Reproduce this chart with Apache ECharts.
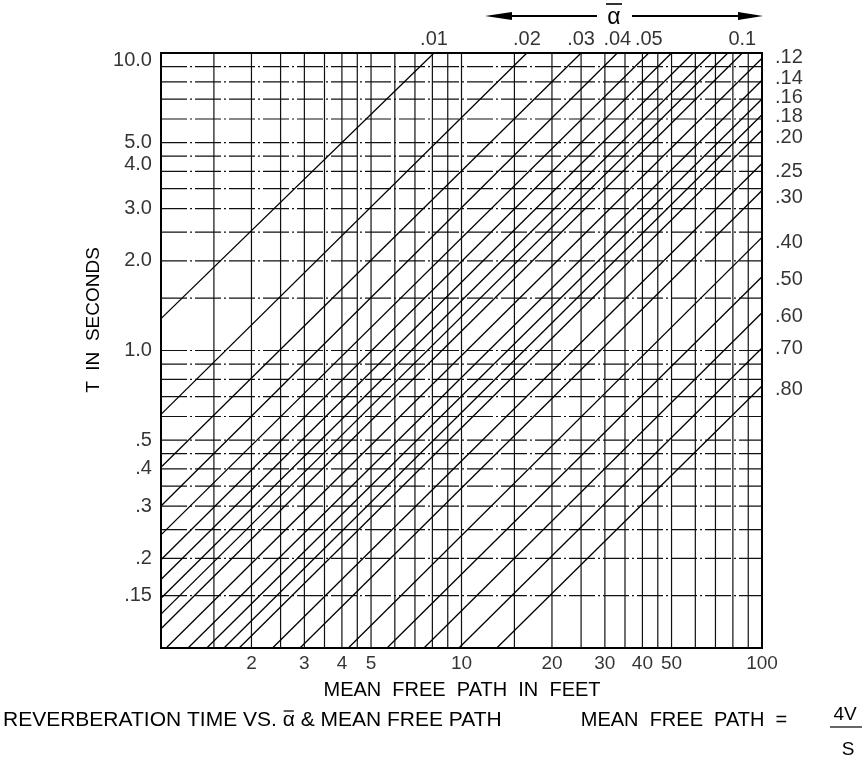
<!DOCTYPE html>
<html>
<head>
<meta charset="utf-8">
<script src="https://cdn.jsdelivr.net/npm/echarts@6/dist/echarts.min.js"></script>
<style>
  html, body { margin: 0; padding: 0; background: #fff; }
  #chart { width: 863px; height: 765px; }
</style>
</head>
<body>
<div id="chart"></div>
<script>
// Average absorption coefficient of each reverberation line
const alphaLabels = ['.01', '.02', '.03', '.04', '.05', '.06', '.07', '.08', '.09', '0.1',
  '.12', '.14', '.16', '.18', '.20', '.25', '.30', '.40', '.50', '.60', '.70', '.80'];
// Whether the coefficient is lettered beside its line
const alphaShown = [true, true, true, true, true, false, false, false, false, true,
  true, true, true, true, true, true, true, true, true, true, true, true];
// Where each line enters the chart: mean free path (ft) and T (s)
const startMfp = [1, 1, 1, 1, 1, 1, 1, 1, 1, 1,
  1.04, 1.23, 1.42, 1.62, 1.82, 2.35, 2.9, 4.2, 5.65, 7.5, 9.8, 13.1];
const startT = [1.28, 0.61, 0.405, 0.30, 0.24, 0.198, 0.17, 0.147, 0.13, 0.116,
  0.1, 0.1, 0.1, 0.1, 0.1, 0.1, 0.1, 0.1, 0.1, 0.1, 0.1, 0.1];
// Where each line leaves the chart
const endMfp = [8.1, 16.5, 25, 33, 42, 50, 59, 68, 77, 86,
  100, 100, 100, 100, 100, 100, 100, 100, 100, 100, 100, 100];
const endT = [10, 10, 10, 10, 10, 10, 10, 10, 10, 10,
  9.6, 8.1, 7.0, 6.2, 5.5, 4.25, 3.45, 2.4, 1.77, 1.34, 1.02, 0.76];

// Axis lettering
const xTicks = [2, 3, 4, 5, 10, 20, 30, 40, 50, 100];
const yTicks = [10, 5, 4, 3, 2, 1, 0.5, 0.4, 0.3, 0.2, 0.15];
const yTickText = ['10.0', '5.0', '4.0', '3.0', '2.0', '1.0', '.5', '.4', '.3', '.2', '.15'];

// Ruling of the log-log paper
const xRules = [1.5, 2, 2.5, 3, 3.5, 4, 4.5, 5, 6, 7, 8, 9,
  10, 15, 20, 25, 30, 35, 40, 45, 50, 60, 70, 80, 90];
const yRules = [0.15, 0.2, 0.25, 0.3, 0.35, 0.4, 0.45, 0.5, 0.6, 0.7, 0.8, 0.9,
  1, 1.5, 2, 2.5, 3, 3.5, 4, 4.5, 5, 6, 7, 8, 9];

const X_MIN = 1, X_MAX = 100, Y_MIN = 0.1, Y_MAX = 10;

const FONT = '"Liberation Sans", Arial, Helvetica, sans-serif';
const INK = '#111';

// vertical nudges (px) that keep the right-hand lettering legible
const rightLabelNudge = { '.12': -1, '.14': -2, '.16': -2, '.18': 2, '.20': 7, '.25': 8,
  '.30': 7, '.40': 5, '.50': 3, '.60': 4, '.70': 1, '.80': 4 };
const yTickNudge = { 10: 7, 4: -7 };

const series = [];

// vertical rules
xRules.forEach(v => {
  series.push({
    type: 'line', silent: true, symbol: 'none', animation: false, z: 1,
    data: [[v, Y_MIN], [v, Y_MAX]],
    lineStyle: { color: INK, width: 1.2, type: 'solid' }
  });
});
// horizontal rules (long dash-dot)
yRules.forEach(v => {
  series.push({
    type: 'line', silent: true, symbol: 'none', animation: false, z: 1,
    data: [[X_MIN, v], [X_MAX, v]],
    lineStyle: { color: INK, width: 1.2, type: [26, 3, 2, 3] }
  });
});
// reverberation-time lines
alphaLabels.forEach((a, i) => {
  series.push({
    name: a, type: 'line', silent: true, symbol: 'none', animation: false, z: 3,
    clip: true,
    data: [[startMfp[i], startT[i]], [endMfp[i], endT[i]]],
    lineStyle: { color: '#000', width: 1.3 }
  });
});

// coefficient lettering at the line ends
const topItems = [], rightItems = [];
alphaLabels.forEach((a, i) => {
  if (!alphaShown[i]) return;
  if (endT[i] >= Y_MAX) {
    topItems.push({ value: [endMfp[i], endT[i]], name: a });
  } else {
    rightItems.push({ value: [endMfp[i], endT[i]], name: a,
      label: { offset: [0, rightLabelNudge[a] || 0] } });
  }
});
const labelSeries = (data, label) => ({
  type: 'scatter', silent: true, animation: false, clip: false, z: 5,
  symbolSize: 0.1, itemStyle: { color: 'rgba(0,0,0,0)' },
  data, label: Object.assign({ show: true, color: '#000', formatter: p => p.name }, label)
});
series.push(labelSeries(topItems, { position: 'top', distance: 3, fontFamily: FONT, fontSize: 20 }));
series.push(labelSeries(rightItems, { position: 'right', distance: 13, fontFamily: FONT, fontSize: 20 }));

// axis tick lettering
series.push(labelSeries(xTicks.map(v => ({ value: [v, Y_MIN], name: String(v) })),
  { position: 'bottom', distance: 6, fontFamily: FONT, fontSize: 19 }));
series.push(labelSeries(yTicks.map((v, i) => ({
  value: [X_MIN, v], name: yTickText[i],
  label: { offset: [0, yTickNudge[v] || 0] }
})), { position: 'left', distance: 9, fontFamily: FONT, fontSize: 20 }));

const text = (x, y, str, size, align, extra) => Object.assign({
  type: 'text', x, y,
  style: { text: str, font: size + 'px ' + FONT, fill: '#000', textAlign: align, textVerticalAlign: 'middle' }
}, extra || {});

// caption set in three pieces so the alpha can carry its bar
const CAP_SIZE = 21;
const measure = document.createElement('canvas').getContext('2d');
measure.font = CAP_SIZE + 'px ' + FONT;
const capHead = 'REVERBERATION TIME VS. ';
const capTail = ' & MEAN FREE PATH';
const capX = 3, capY = 720;
const alphaX = capX + measure.measureText(capHead).width;
const alphaW = measure.measureText('α').width;

const option = {
  backgroundColor: '#fff',
  animation: false,
  grid: {
    left: 161, top: 53, width: 601, height: 595,
    show: true, borderColor: '#000', borderWidth: 2, backgroundColor: 'transparent'
  },
  xAxis: {
    type: 'log', logBase: 10, min: X_MIN, max: X_MAX,
    axisLine: { show: false }, axisTick: { show: false },
    axisLabel: { show: false }, splitLine: { show: false }, minorSplitLine: { show: false }
  },
  yAxis: {
    type: 'log', logBase: 10, min: Y_MIN, max: Y_MAX,
    axisLine: { show: false }, axisTick: { show: false },
    axisLabel: { show: false }, splitLine: { show: false }, minorSplitLine: { show: false }
  },
  series,
  graphic: [
    // alpha bar with double arrow above the chart
    { type: 'line', shape: { x1: 505, y1: 16, x2: 597, y2: 16 }, style: { stroke: '#000', lineWidth: 2 } },
    { type: 'polygon', shape: { points: [[485, 16], [512, 12], [512, 20]] }, style: { fill: '#000' } },
    { type: 'line', shape: { x1: 632, y1: 16, x2: 742, y2: 16 }, style: { stroke: '#000', lineWidth: 2 } },
    { type: 'polygon', shape: { points: [[763, 16], [738, 12], [738, 20]] }, style: { fill: '#000' } },
    text(614, 18, 'α', 23, 'center'),
    { type: 'line', shape: { x1: 606, y1: 4, x2: 622, y2: 4 }, style: { stroke: '#000', lineWidth: 1.6 } },

    // axis titles
    text(94, 320, 'T  IN  SECONDS', 19, 'center', { rotation: Math.PI / 2 }),
    text(462, 690, 'MEAN  FREE  PATH  IN  FEET', 20, 'center'),

    // caption
    text(capX, capY, capHead, CAP_SIZE, 'left'),
    text(alphaX, capY, 'α', CAP_SIZE, 'left'),
    { type: 'line', shape: { x1: alphaX + 1, y1: capY - 9, x2: alphaX + alphaW - 1, y2: capY - 9 },
      style: { stroke: '#000', lineWidth: 1.3 } },
    text(alphaX + alphaW, capY, capTail, CAP_SIZE, 'left'),

    // mean free path definition
    text(684, 720, 'MEAN  FREE  PATH  =', 20, 'center'),
    text(845, 715, '4V', 19, 'center'),
    { type: 'line', shape: { x1: 830, y1: 727, x2: 862, y2: 727 }, style: { stroke: '#000', lineWidth: 1.2 } },
    text(848, 750, 'S', 19, 'center')
  ]
};

const chart = echarts.init(document.getElementById('chart'), null, { renderer: 'canvas' });
chart.setOption(option);
</script>
</body>
</html>
